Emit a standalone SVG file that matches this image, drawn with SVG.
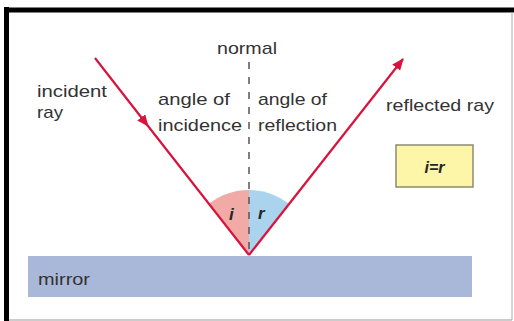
<svg xmlns="http://www.w3.org/2000/svg" width="514" height="321" viewBox="0 0 514 321">
  <defs>
    <marker id="arrow" viewBox="0 0 12 10" refX="11" refY="5" markerWidth="12" markerHeight="10" markerUnits="userSpaceOnUse" orient="auto">
      <path d="M0,0 L12,5 L0,10 Z" fill="#d9143c"/>
    </marker>
    <style>
      .lbl { font-family: "Liberation Sans", Arial, sans-serif; font-size: 17px; fill: #333333; }
      .ray { fill: none; stroke: #d9143c; stroke-width: 2.2; }
      .sym { font-family: "Liberation Sans", Arial, sans-serif; font-weight: bold; font-style: italic; fill: #262626; }
    </style>
  </defs>
  <rect x="0" y="0" width="514" height="321" fill="#ffffff"/>
  <g id="frame">
    <line x1="6.5" y1="7" x2="6.5" y2="321" stroke="#000" stroke-width="5"/>
    <line x1="4" y1="10" x2="514" y2="10" stroke="#000" stroke-width="5"/>
    <line x1="512" y1="12" x2="512" y2="320" stroke="#aaa" stroke-width="1"/>
    <line x1="9" y1="320" x2="512" y2="320" stroke="#999" stroke-width="1"/>
  </g>
  <g id="mirror">
    <rect x="28" y="256" width="444" height="41" fill="#a9b7d9"/>
    <text class="lbl" x="38" y="285" textLength="52" lengthAdjust="spacingAndGlyphs" fill="#353a50">mirror</text>
  </g>
  <g id="angle-i">
    <path d="M249,255 L209.2,203.6 A65,65 0 0 1 249,190 Z" fill="#f2aaa7"/>
    <text class="sym" x="229" y="220" font-size="17">i</text>
  </g>
  <g id="angle-r">
    <path d="M249,255 L249,190 A65,65 0 0 1 289.1,203.8 Z" fill="#aad3ee"/>
    <text class="sym" x="258" y="219" font-size="17">r</text>
  </g>
  <g id="normal">
    <line x1="249" y1="62" x2="249" y2="255" stroke="#555" stroke-width="1.5" stroke-dasharray="7,8"/>
    <text class="lbl" x="217" y="54" textLength="60" lengthAdjust="spacingAndGlyphs">normal</text>
  </g>
  <g id="connectors">
    <path class="ray" d="M95,58 L148,126 L249,255" marker-mid="url(#arrow)"/>
    <path class="ray" d="M249,255 L403,59" marker-end="url(#arrow)"/>
  </g>
  <g id="incident-ray-label">
    <text class="lbl" x="37" y="97" textLength="70" lengthAdjust="spacingAndGlyphs">incident</text>
    <text class="lbl" x="37" y="118" textLength="26" lengthAdjust="spacingAndGlyphs">ray</text>
  </g>
  <g id="angle-of-incidence-label">
    <text class="lbl" x="158" y="105" textLength="72" lengthAdjust="spacingAndGlyphs">angle of</text>
    <text class="lbl" x="158" y="131" textLength="84" lengthAdjust="spacingAndGlyphs">incidence</text>
  </g>
  <g id="angle-of-reflection-label">
    <text class="lbl" x="258" y="105" textLength="69" lengthAdjust="spacingAndGlyphs">angle of</text>
    <text class="lbl" x="258" y="131" textLength="79" lengthAdjust="spacingAndGlyphs">reflection</text>
  </g>
  <g id="reflected-ray-label">
    <text class="lbl" x="386" y="111" textLength="108" lengthAdjust="spacingAndGlyphs">reflected ray</text>
  </g>
  <g id="equation">
    <rect x="396" y="145" width="77" height="42" fill="#fdf5a8" stroke="#8c8a72" stroke-width="1.5"/>
    <text class="sym" x="434.5" y="173" font-size="16" text-anchor="middle">i=r</text>
  </g>
</svg>
